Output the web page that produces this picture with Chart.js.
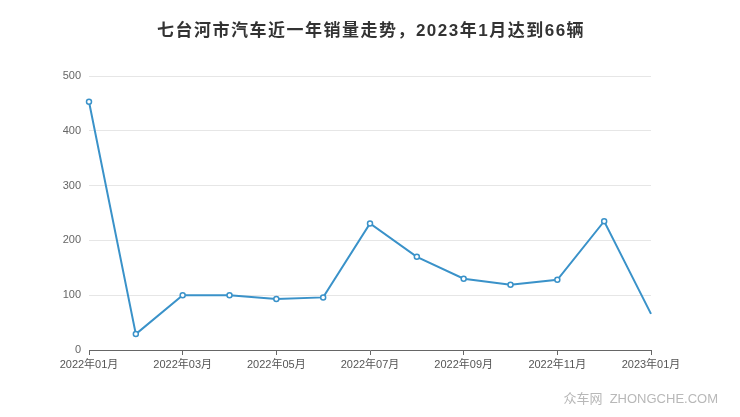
<!DOCTYPE html>
<html>
<head>
<meta charset="utf-8">
<script src="https://cdn.jsdelivr.net/npm/chart.js@4"></script>
<style>
  html, body { margin: 0; padding: 0; background: #fff; }
  #wrap { width: 740px; height: 417px; }
</style>
</head>
<body>
<div id="wrap"><canvas id="myChart" width="740" height="417"></canvas></div>
<script>
var titleText = '七台河市汽车近一年销量走势，2023年1月达到66辆';
var months = ['2022年01月', '2022年02月', '2022年03月', '2022年04月', '2022年05月', '2022年06月',
              '2022年07月', '2022年08月', '2022年09月', '2022年10月', '2022年11月', '2022年12月', '2023年01月'];
var sales = [453, 29, 100, 100, 93, 96, 231, 170, 130, 119, 128, 235, 66];
var yTicks = [0, 100, 200, 300, 400, 500];

var FONT = '"Liberation Sans", "Noto Sans CJK SC", sans-serif';

// title and watermark drawn as text on the canvas
var textPlugin = {
  id: 'texts',
  afterDraw: function (chart) {
    var c = chart.ctx;
    c.save();
    c.fillStyle = '#333';
    c.font = 'bold 17px ' + FONT;
    c.letterSpacing = '1.5px';
    c.textAlign = 'center';
    c.textBaseline = 'middle';
    c.fillText(titleText, 371, 31);
    c.letterSpacing = '0px';
    c.fillStyle = '#b8b8b8';
    c.font = '13px ' + FONT;
    c.textAlign = 'right';
    c.fillText('众车网  ZHONGCHE.COM', 718, 399);
    c.restore();
  }
};

var ctx = document.getElementById('myChart').getContext('2d');

var myChart = new Chart(ctx, {
    type: 'line',
    data: {
        labels: months,
        datasets: [
            {
                label: '销量',
                data: sales,
                borderColor: 'rgb(58, 146, 201)',
                backgroundColor: '#fff',
                borderWidth: 2,
                pointRadius: sales.map(function (v, i) { return i === sales.length - 1 ? 0 : 2.5; }),
                pointBorderWidth: 1.5,
                pointBackgroundColor: '#fff',
                pointBorderColor: 'rgb(58, 146, 201)',
                tension: 0
            }
        ]
    },
    options: {
        responsive: false,
        animation: false,
        layout: { padding: { top: 76, right: 89, bottom: 0, left: 0 } },
        plugins: {
          legend: { display: false },
          title: { display: false },
          tooltip: { enabled: false }
        },
        scales: {
          x: {
            type: 'category',
            offset: false,
            afterFit: function (s) { s.height = 67; },
            border: { color: '#666', width: 1 },
            grid: {
              drawOnChartArea: false,
              drawTicks: true,
              tickLength: 5,
              color: '#666'
            },
            ticks: {
              autoSkip: false,
              maxRotation: 0,
              padding: 3,
              color: '#555',
              font: { size: 11, family: FONT },
              callback: function (val, i) { return i % 2 === 0 ? months[i] : null; }
            }
          },
          y: {
            min: 0,
            max: 500,
            afterFit: function (s) { s.width = 89; },
            afterBuildTicks: function (s) { s.ticks = yTicks.map(function (v) { return { value: v }; }); },
            border: { display: false },
            grid: {
              drawTicks: false,
              color: function (c) { return c.tick.value === 0 ? 'rgba(0,0,0,0)' : '#e6e6e6'; }
            },
            ticks: {
              padding: 8,
              color: '#666',
              font: { size: 11, family: FONT }
            }
          }
        }
      },
    plugins: [textPlugin]
});
</script>
</body>
</html>
